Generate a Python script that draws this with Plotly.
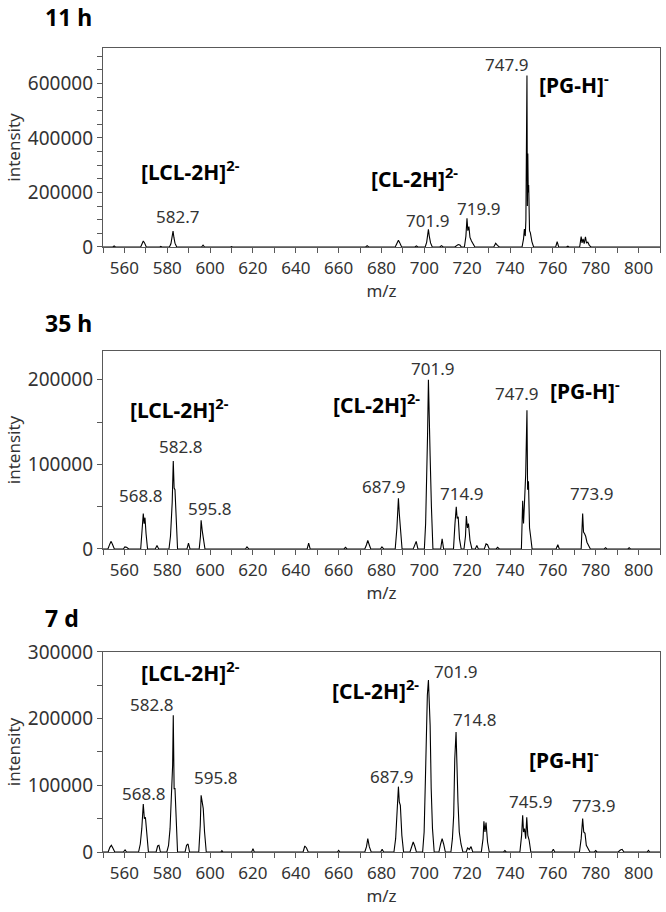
import plotly.graph_objects as go

# ---- spectrum data (m/z, intensity) ----
mz_11h = [550, 554.6, 555.2, 555.8,
          567.6, 568.2, 568.8, 569.4, 570.2,
          576.5, 577.0, 577.5,
          581.0, 581.7, 582.2, 582.7, 583.1, 583.6, 584.4,
          596.0, 596.7, 597.4,
          609.5, 610.0, 610.5,
          672.6, 673.3, 674.0,
          686.4, 687.2, 687.9, 688.5, 689.4,
          695.6, 696.3, 697.0,
          700.4, 701.1, 701.6, 701.9, 702.3, 702.9, 703.7,
          707.2, 708.0, 708.8,
          714.2, 715.0, 715.8, 716.6, 717.3,
          718.7, 719.4, 719.9, 720.3, 720.8, 721.3, 722.0, 722.8, 723.6,
          732.4, 733.3, 734.1, 735.0,
          745.6, 746.3, 746.7, 747.1, 747.4, 747.9, 748.1, 748.3, 748.5, 748.7, 749.1, 749.5, 750.2, 751.0,
          761.3, 762.0, 762.7,
          766.3, 767.0, 767.5,
          772.5, 773.2, 773.6, 774.1, 774.6, 775.2, 775.7, 776.3, 777.0, 777.8,
          810]
int_11h = [0, 0, 4000, 0,
           0, 14000, 22000, 15000, 0,
           0, 2000, 0,
           0, 12000, 30000, 58000, 35000, 14000, 0,
           0, 7000, 0,
           0, 1500, 0,
           0, 5000, 0,
           0, 14000, 25000, 16000, 0,
           0, 4000, 0,
           0, 18000, 45000, 65000, 40000, 15000, 0,
           0, 5000, 0,
           0, 6000, 9000, 7000, 0,
           0, 40000, 105000, 60000, 75000, 35000, 22000, 8000, 0,
           0, 14000, 6000, 0,
           0, 30000, 66000, 40000, 99000, 629000, 150000, 343000, 200000, 227000, 60000, 52000, 20000, 0,
           0, 20000, 0,
           0, 3000, 0,
           0, 38000, 15000, 30000, 12000, 37000, 14000, 18000, 6000, 0,
           0]

mz_35h = [550, 552.3, 553.2, 553.8, 554.5, 555.3,
          559.5, 560.2, 561.0, 562.0,
          567.6, 568.3, 568.8, 569.2, 569.6, 570.1, 570.8,
          574.4, 575.2, 576.0,
          580.8, 581.5, 581.9, 582.3, 582.8, 583.2, 583.6, 584.1, 584.8,
          589.2, 589.9, 590.6,
          594.9, 595.5, 595.8, 596.3, 596.9, 597.6,
          616.5, 617.2, 618.0,
          645.3, 646.0, 646.7,
          662.5, 663.2, 663.9,
          672.2, 673.0, 673.6, 674.3, 675.0,
          679.5, 680.2, 681.0,
          686.4, 687.2, 687.6, 687.9, 688.3, 688.8, 689.6,
          694.8, 695.6, 696.2, 697.0,
          700.0, 700.6, 701.2, 701.5, 701.9, 702.3, 702.7, 703.3, 704.0,
          707.6, 708.3, 709.0,
          713.6, 714.3, 714.9, 715.3, 715.8, 716.4, 717.2,
          718.5, 719.2, 719.6, 720.1, 720.6, 721.3, 722.2,
          723.8, 724.5, 725.2,
          728.0, 728.8, 729.5, 730.3,
          733.5, 734.2, 735.0,
          745.3, 745.9, 746.3, 746.7, 747.3, 747.9, 748.2, 748.6, 749.1, 749.6, 750.3,
          761.5, 762.3, 763.0,
          773.2, 773.9, 774.3, 774.8, 775.3, 775.9, 776.6, 777.5,
          784.0, 784.6, 785.2,
          795.0, 795.6, 796.2,
          810]
int_35h = [0, 0, 6000, 9000, 5000, 0,
           0, 2500, 2000, 0,
           0, 20000, 42000, 30000, 37000, 18000, 0,
           0, 4000, 0,
           0, 15000, 38000, 55000, 104000, 72000, 70000, 30000, 0,
           0, 7000, 0,
           0, 15000, 34000, 22000, 10000, 0,
           0, 2500, 0,
           0, 7000, 0,
           0, 2000, 0,
           0, 5000, 10000, 5000, 0,
           0, 2500, 0,
           0, 25000, 48000, 60000, 42000, 20000, 0,
           0, 6000, 9000, 0,
           0, 30000, 90000, 135000, 200000, 130000, 110000, 50000, 0,
           0, 12000, 0,
           0, 30000, 50000, 36000, 38000, 12000, 0,
           0, 15000, 39000, 25000, 30000, 10000, 0,
           0, 4000, 0,
           0, 6000, 5000, 0,
           0, 2000, 0,
           0, 57000, 30000, 52000, 88000, 164000, 70000, 80000, 25000, 15000, 0,
           0, 5000, 0,
           0, 42000, 20000, 18000, 15000, 8000, 4000, 0,
           0, 1500, 0,
           0, 1500, 0,
           0]

mz_7d = [550, 552.4, 553.2, 553.9, 554.6, 555.5,
         559.5, 560.3, 561.0,
         566.6, 567.4, 568.1, 568.8, 569.3, 569.8, 570.4, 571.2,
         574.8, 575.5, 576.1, 576.8,
         579.8, 580.6, 581.3, 582.0, 582.5, 582.8, 583.2, 583.6, 584.1, 584.8,
         588.3, 589.0, 589.7, 590.4,
         594.7, 595.4, 595.8, 596.3, 596.8, 597.4, 598.2,
         605.0, 605.5, 606.0,
         619.4, 620.0, 620.6,
         643.4, 644.2, 645.0, 645.8,
         659.4, 660.0, 660.6,
         672.2, 673.0, 673.6, 674.3, 675.2,
         679.6, 680.3, 681.0,
         685.8, 686.6, 687.3, 687.9, 688.3, 688.8, 689.5, 690.3,
         693.3, 694.1, 694.8, 695.5, 696.3,
         699.2, 699.9, 700.5, 701.0, 701.4, 701.9, 702.3, 702.7, 703.2, 703.8, 704.6,
         706.8, 707.6, 708.3, 709.0, 709.8,
         712.4, 713.1, 713.7, 714.2, 714.8, 715.2, 715.7, 716.3, 717.1, 718.0,
         719.5, 720.2, 721.0, 721.8, 722.6,
         726.6, 727.4, 727.8, 728.3, 728.8, 729.5, 730.3,
         737.0, 737.6, 738.2,
         744.6, 745.4, 745.9, 746.3, 746.8, 747.3, 747.8, 748.3, 748.9, 749.7,
         759.5, 760.2, 760.9,
         772.4, 773.2, 773.9, 774.4, 775.0, 775.6, 776.4, 777.3,
         779.4, 780.0, 780.6,
         790.5, 791.5, 792.3, 793.2,
         804.0, 804.6, 805.2,
         810]
int_7d = [0, 0, 7000, 10000, 6000, 0,
          0, 3000, 0,
          0, 12000, 35000, 72000, 50000, 52000, 25000, 0,
          0, 9000, 10000, 0,
          0, 10000, 35000, 80000, 130000, 205000, 95000, 95000, 40000, 0,
          0, 10000, 12000, 0,
          0, 40000, 85000, 72000, 65000, 30000, 0,
          0, 2000, 0,
          0, 5000, 0,
          0, 9000, 6000, 0,
          0, 2500, 0,
          0, 8000, 20000, 8000, 0,
          0, 4000, 0,
          0, 20000, 60000, 98000, 75000, 70000, 25000, 0,
          0, 8000, 15000, 9000, 0,
          0, 30000, 110000, 200000, 235000, 258000, 215000, 190000, 95000, 35000, 0,
          0, 12000, 20000, 12000, 0,
          0, 20000, 55000, 140000, 180000, 120000, 75000, 30000, 12000, 0,
          0, 6000, 4000, 8000, 0,
          0, 20000, 46000, 30000, 44000, 15000, 0,
          0, 2000, 0,
          0, 25000, 55000, 30000, 35000, 20000, 52000, 25000, 18000, 0,
          0, 4000, 0,
          0, 20000, 50000, 30000, 28000, 10000, 5000, 0,
          0, 2000, 0,
          0, 3000, 4000, 0,
          0, 2500, 0,
          0]

panel_titles = ["11 h", "35 h", "7 d"]
y_max = [730000, 234000, 300000]
y_dtick = [200000, 100000, 100000]

# species labels: (text, m/z, intensity)
species_11h = [("[LCL-2H]<sup>2-</sup>", 566.9, 281700), ("[CL-2H]<sup>2-</sup>", 674.3, 256000),
               ("[PG-H]<sup>-</sup>", 752.7, 600000)]
species_35h = [("[LCL-2H]<sup>2-</sup>", 561.8, 166000), ("[CL-2H]<sup>2-</sup>", 656.5, 172000),
               ("[PG-H]<sup>-</sup>", 757.8, 188000)]
species_7d = [("[LCL-2H]<sup>2-</sup>", 566.6, 270000), ("[CL-2H]<sup>2-</sup>", 656.1, 243000),
              ("[PG-H]<sup>-</sup>", 747.8, 140500)]

# peak m/z labels: (text, m/z, intensity)
peaks_11h = [("747.9", 738.2, 669600), ("582.7", 585.0, 110900), ("701.9", 701.7, 96200),
             ("719.9", 725.1, 142700)]
peaks_35h = [("701.9", 704.0, 213000), ("747.9", 743.2, 184000), ("582.8", 586.1, 120800),
             ("568.8", 567.4, 63800), ("595.8", 599.6, 48000), ("687.9", 681.0, 73500),
             ("714.9", 717.5, 65000), ("773.9", 777.9, 65000)]
peaks_7d = [("701.9", 714.6, 270000), ("714.8", 723.4, 198000), ("687.9", 684.5, 113000),
            ("745.9", 749.4, 75500), ("773.9", 778.9, 69000), ("582.8", 572.5, 220500),
            ("568.8", 568.9, 88000), ("595.8", 602.5, 112000)]

spectra = [(mz_11h, int_11h), (mz_35h, int_35h), (mz_7d, int_7d)]
species = [species_11h, species_35h, species_7d]
peaks = [peaks_11h, peaks_35h, peaks_7d]

# layout geometry (paper fractions)
domains = [[0.7525, 1.0], [0.3769, 0.6231], [0.0, 0.2488]]
title_y = [1.039, 0.658, 0.291]

FONT = "Noto Sans"
AX = "#595959"
TXT = "#333333"

fig = go.Figure()
annotations = []

for i, (mz, inten) in enumerate(spectra):
    n = "" if i == 0 else str(i + 1)
    fig.add_trace(go.Scatter(x=mz, y=inten, mode="lines",
                             line=dict(color="black", width=1.1),
                             xaxis="x" + n, yaxis="y" + n, showlegend=False))

    fig.layout["xaxis" + n] = dict(
        domain=[0, 1], anchor="y" + n, range=[550, 810],
        tick0=0, dtick=20, ticks="outside", ticklen=5, tickcolor=AX,
        minor=dict(dtick=10, ticks="outside", ticklen=5, tickcolor=AX),
        showline=True, mirror=True, linecolor=AX, linewidth=1.3,
        showgrid=False, zeroline=False,
        tickfont=dict(family=FONT, size=17, color=TXT),
        title=dict(text="m/z", standoff=6, font=dict(family=FONT, size=17, color=TXT)),
    )
    fig.layout["yaxis" + n] = dict(
        domain=domains[i], anchor="x" + n, range=[0, y_max[i]],
        tick0=0, dtick=y_dtick[i], tickformat="d",
        ticks="outside", ticklen=5, tickcolor=AX,
        minor=dict(dtick=50000, ticks="outside", ticklen=5, tickcolor=AX),
        showline=True, mirror=True, linecolor=AX, linewidth=1.3,
        showgrid=False, zeroline=False,
        tickfont=dict(family=FONT, size=19, color=TXT),
        title=dict(text="intensity", standoff=2, font=dict(family=FONT, size=17, color=TXT)),
    )

    for txt, x, y in species[i]:
        annotations.append(dict(text="<b>" + txt + "</b>", x=x, y=y, xref="x" + n, yref="y" + n,
                                xanchor="left", yanchor="middle", showarrow=False,
                                font=dict(family=FONT, size=21, color="black")))
    for txt, x, y in peaks[i]:
        annotations.append(dict(text=txt, x=x, y=y, xref="x" + n, yref="y" + n,
                                xanchor="center", yanchor="middle", showarrow=False,
                                font=dict(family=FONT, size=17, color=TXT)))
    annotations.append(dict(text="<b>" + panel_titles[i] + "</b>", x=-0.1077, y=title_y[i],
                            xref="paper", yref="paper", xanchor="left", yanchor="middle",
                            showarrow=False, font=dict(family=FONT, size=23, color="black")))

fig.update_layout(
    width=666, height=912,
    margin=dict(l=103, r=6, t=48, b=60),
    plot_bgcolor="white", paper_bgcolor="white",
    annotations=annotations,
)

# page body has a default 8px margin; drop it so the figure fills the window
fig.write_html("out.html", config={"displayModeBar": False},
               post_script="document.body.style.margin='0';document.body.style.overflow='hidden';")
